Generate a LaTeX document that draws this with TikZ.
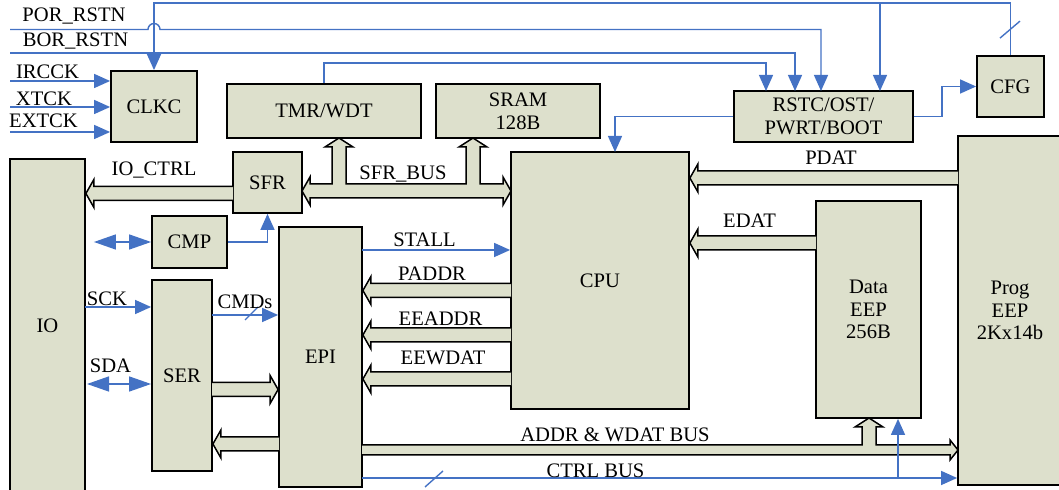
\documentclass[tikz,border=0pt]{standalone}
\usepackage{fontspec}
\setmainfont{Liberation Serif}
\usetikzlibrary{arrows.meta,calc}

\definecolor{blkgreen}{RGB}{221,224,204}
\definecolor{sigblue}{RGB}{68,114,196}

\tikzset{
  blk/.style={draw, line width=0.9pt, fill=blkgreen, inner sep=0pt, align=center,
    font=\fontsize{10.3}{11.3}\selectfont},
  lbl/.style={inner sep=0pt, font=\fontsize{10.3}{11.3}\selectfont},
  sig/.style={sigblue, line width=0.7pt, -{Triangle[length=8pt,width=7pt]}},
  sigboth/.style={sigblue, line width=0.7pt,
    {Triangle[length=11pt,width=7.5pt]}-{Triangle[length=11pt,width=7.5pt]}},
  tick/.style={sigblue, line width=0.7pt},
  bus/.style={draw=black, line width=0.75pt, fill=blkgreen},
}

% fat bus arrow: #1 = 1 points left, -1 points right; #2 tail, #3 tip
\newcommand{\hbus}[3]{%
  \filldraw[bus] ($(#2)+(0,-7)$) -- ($(#3)+(#1*8,-7)$) -- ($(#3)+(#1*8,-14)$) -- (#3)
    -- ($(#3)+(#1*8,14)$) -- ($(#3)+(#1*8,7)$) -- ($(#2)+(0,7)$);}

\begin{document}
\begin{tikzpicture}[x=0.5pt, y=-0.5pt]
\useasboundingbox (0,0) rectangle (1059,490);

% blocks
\node[blk, minimum width=43pt, minimum height=35.5pt] (clkc) at (154,106.5) {CLKC};
\node[blk, minimum width=97pt, minimum height=27pt] (tmr) at (324,111) {TMR/WDT};
\node[blk, minimum width=82pt, minimum height=27pt] (sram) at (518,111) {SRAM\\128B};
\node[blk, minimum width=89.5pt, minimum height=25.5pt] (rstc) at (823.5,116.5) {RSTC/OST/\\PWRT/BOOT};
\node[blk, minimum width=33.5pt, minimum height=30.5pt] (cfg) at (1010.5,86.5) {CFG};
\node[blk, minimum width=37.5pt, minimum height=166.5pt] (io) at (47.5,325.5) {IO};
\node[blk, minimum width=34.5pt, minimum height=30.5pt] (sfr) at (267.5,182.5) {SFR};
\node[blk, minimum width=37.5pt, minimum height=26pt] (cmp) at (189.5,242) {CMP};
\node[blk, minimum width=30pt, minimum height=95.5pt] (ser) at (182,375.5) {SER};
\node[blk, minimum width=41.5pt, minimum height=130pt] (epi) at (320.5,357) {EPI};
\node[blk, minimum width=89pt, minimum height=128.5pt] (cpu) at (600,280.5) {CPU};
\node[blk, minimum width=52.5pt, minimum height=108.5pt] (deep) at (868.5,309.5) {Data\\EEP\\256B};
\node[blk, minimum width=52pt, minimum height=174.5pt] (peep) at (1010,310.5) {Prog\\EEP\\2Kx14b};

% bus rows
\coordinate (ioc) at (233,193.5);
\coordinate (paddr) at (511,290.5);
\coordinate (eeaddr) at (511,335);
\coordinate (eewdat) at (511,379);
\coordinate (edat) at (816,243);
\coordinate (pdat) at (958,178);
\coordinate (serout) at (212,389.5);
\coordinate (epiout) at (279,444);

\hbus{1}{ioc}{ioc -| io.east}
\hbus{1}{paddr}{paddr -| epi.east}
\hbus{1}{eeaddr}{eeaddr -| epi.east}
\hbus{1}{eewdat}{eewdat -| epi.east}
\hbus{1}{edat}{edat -| cpu.east}
\hbus{1}{pdat}{pdat -| cpu.east}
\hbus{-1}{serout}{serout -| epi.west}
\hbus{1}{epiout}{epiout -| ser.east}

% SFR_BUS with branches to TMR/WDT and SRAM
\filldraw[bus] (302,191) -- (310,177) -- (310,184) -- (332,184) -- (332,147) -- (325,147)
  -- (339,138) -- (353,147) -- (346,147) -- (346,184) -- (466,184) -- (466,147)
  -- (459,147) -- (473,138) -- (487,147) -- (480,147) -- (480,184) -- (503,184)
  -- (503,177) -- (511,191) -- (503,205) -- (503,198) -- (310,198) -- (310,205) -- cycle;

% ADDR & WDAT BUS with branch to Data EEP
\filldraw[bus] (362,445) -- (862,445) -- (862,427) -- (855,427) -- (869,418) -- (883,427)
  -- (876,427) -- (876,445) -- (950,445) -- (950,440) -- (958,450) -- (950,460)
  -- (950,455) -- (362,455);

% control signals
\coordinate (porin) at (10,29.5);
\coordinate (borin) at (10,53);
\coordinate (irin) at (10,81);
\coordinate (xtin) at (10,107);
\coordinate (exin) at (10,132);
\coordinate (topy) at (0,3);
\coordinate (rs1) at (766,91);
\coordinate (rs2) at (795,91);
\coordinate (rs3) at (821,91);
\coordinate (rs4) at (880,91);
\coordinate (cpuin) at (615,152);

\draw[sig] (irin) -- (irin -| clkc.west);
\draw[sig] (xtin) -- (xtin -| clkc.west);
\draw[sig] (exin) -- (exin -| clkc.west);
\draw[sig] (cfg.north) |- (clkc.north |- topy) -- (clkc.north);
\draw[sig] (rs4 |- topy) -- (rs4);
\draw[tick] ($(cfg.north)+(-10.5,-17)$) -- ++(20,-17);
\draw[sig] (porin) -- ($(clkc.north |- porin)+(-6,0)$) arc[start angle=180, end angle=0, radius=3pt]
  -- (rs3 |- porin) -- (rs3);
\draw[sig] (borin) -| (rs2);
\draw[sig] (tmr.north) -- ++(0,-20) -| (rs1);
\draw[sig] (rstc.west) -| (cpuin);
\draw[sig] (rstc.east) -- ++(28,0) |- (cfg.west);

\coordinate (sck) at (85,307);
\coordinate (sda) at (85,384);
\coordinate (cmd) at (212,315);
\coordinate (stall) at (362,250);
\coordinate (ctrl) at (362,478);
\coordinate (cb) at (898,478);

\draw[sig] (cmp.east) -| (sfr.south);
\draw[sigboth, shorten <=4pt] (cmp.west -| io.east) -- (cmp.west);
\draw[sig] (sck) -- (sck -| ser.west);
\draw[sigboth, shorten <=1pt] (sda) -- (sda -| ser.west);
\draw[sig] (cmd) -- (cmd -| epi.west);
\draw[tick] ($(cmd)+(33,5)$) -- ++(13,-13);
\draw[sig] (stall) -- (stall -| cpu.west);
\draw[sig] (ctrl) -- (ctrl -| peep.west);
\draw[tick] ($(ctrl)+(63,9)$) -- ++(18,-16);
\draw[sig] (cb) -- (cb |- deep.south);

% labels
\node[lbl] (porl) at (74,16.5) {POR\_RSTN};
\node[lbl] (borl) at (75.5,41.5) {BOR\_RSTN};
\node[lbl] (irl) at (47.5,72) {IRCCK};
\node[lbl] (xtl) at (44,99) {XTCK};
\node[lbl] (exl) at (43.5,121) {EXTCK};
\node[lbl] (iocl) at (154,170.5) {IO\_CTRL};
\node[lbl] (sfrbl) at (403,174.5) {SFR\_BUS};
\node[lbl] (stalll) at (424.5,240) {STALL};
\node[lbl] (paddrl) at (432,274) {PADDR};
\node[lbl] (eeaddrl) at (440.5,319) {EEADDR};
\node[lbl] (eewdatl) at (443,358) {EEWDAT};
\node[lbl] (edatl) at (749.5,221) {EDAT};
\node[lbl] (pdatl) at (831,158) {PDAT};
\node[lbl] (sckl) at (107,299) {SCK};
\node[lbl] (sdal) at (110.5,366) {SDA};
\node[lbl] (cmdl) at (245,302) {CMDs};
\node[lbl] (addrl) at (615,434.5) {ADDR \& WDAT BUS};
\node[lbl] (ctrll) at (595.5,471) {CTRL BUS};
\end{tikzpicture}
\end{document}
